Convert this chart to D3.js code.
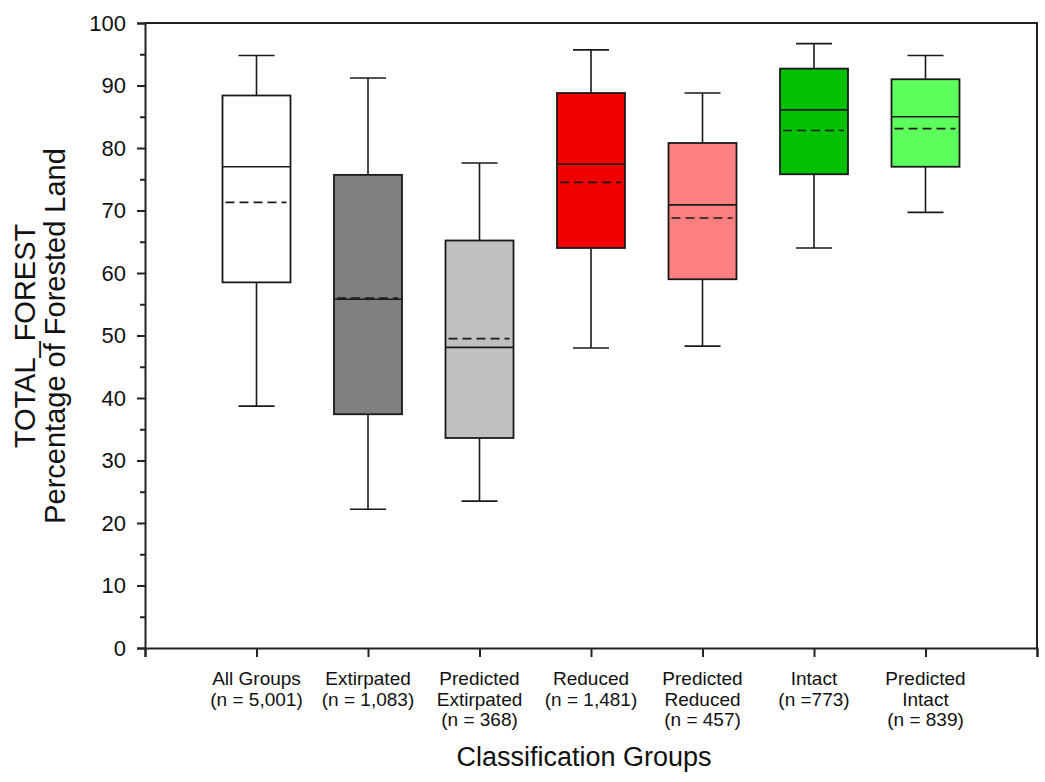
<!DOCTYPE html>
<html>
<head>
<meta charset="utf-8">
<script src="https://cdn.jsdelivr.net/npm/d3@7"></script>
<style>
  html, body { margin: 0; padding: 0; background: #fff; }
  svg { display: block; font-family: "Liberation Sans", Arial, sans-serif; }
</style>
</head>
<body>
<svg id="chart" width="1045" height="782"></svg>
<script>
// ---- Data ----
const categories = [
  ["All Groups", "(n = 5,001)"],
  ["Extirpated", "(n = 1,083)"],
  ["Predicted", "Extirpated", "(n = 368)"],
  ["Reduced", "(n = 1,481)"],
  ["Predicted", "Reduced", "(n = 457)"],
  ["Intact", "(n =773)"],
  ["Predicted", "Intact", "(n = 839)"]
];
const whiskerLow  = [38.7, 22.2, 23.5, 48.0, 48.3, 64.0, 69.7];
const q1          = [58.5, 37.4, 33.6, 64.0, 59.0, 75.8, 77.0];
const median      = [77.0, 55.8, 48.1, 77.4, 70.9, 86.1, 85.0];
const mean        = [71.3, 56.0, 49.5, 74.5, 68.8, 82.8, 83.1];
const q3          = [88.4, 75.7, 65.2, 88.8, 80.8, 92.7, 91.0];
const whiskerHigh = [94.8, 91.2, 77.6, 95.7, 88.8, 96.7, 94.8];
const fills = ["#ffffff", "#808080", "#c0c0c0", "#f20000", "#ff8080", "#00c000", "#5cff5c"];
const yTicks = [0, 10, 20, 30, 40, 50, 60, 70, 80, 90, 100];
const yMinorTicks = [5, 15, 25, 35, 45, 55, 65, 75, 85, 95];
const yTitle = ["TOTAL_FOREST", "Percentage of Forested Land"];
const xTitle = "Classification Groups";

// ---- Layout ----
const mLeft = 145, mRight = 1037, mTop = 23, mBottom = 648;
const svg = d3.select("#chart");
const x = d3.scaleLinear().domain([0, categories.length + 1]).range([mLeft, mRight]);
const y = d3.scaleLinear().domain([0, 100]).range([mBottom, mTop]);
const boxW = 68, capW = 36;
const ink = "#1a1a1a";

const data = categories.map((c, i) => ({
  label: c, pos: i + 1,
  lo: whiskerLow[i], q1: q1[i], med: median[i], mean: mean[i], q3: q3[i], hi: whiskerHigh[i],
  fill: fills[i]
}));

// frame (top & right)
svg.append("path")
  .attr("d", `M${mLeft},${mTop}H${mRight}V${mBottom}`)
  .attr("fill", "none").attr("stroke", "#222").attr("stroke-width", 2);

// Y axis major
const yAxis = svg.append("g").attr("transform", `translate(${mLeft},0)`)
  .call(d3.axisLeft(y).tickValues(yTicks).tickSize(8).tickPadding(11).tickFormat(d3.format("d")));
yAxis.select(".domain").attr("stroke", "#222").attr("stroke-width", 2);
yAxis.selectAll(".tick line").attr("stroke", "#222").attr("stroke-width", 2);
yAxis.selectAll(".tick text").attr("font-size", 22).attr("fill", "#111")
  .attr("font-family", "'Liberation Sans', Arial, sans-serif");

// Y axis minor
const yMinor = svg.append("g").attr("transform", `translate(${mLeft},0)`)
  .call(d3.axisLeft(y).tickValues(yMinorTicks).tickSize(5).tickFormat(""));
yMinor.select(".domain").remove();
yMinor.selectAll(".tick line").attr("stroke", "#222").attr("stroke-width", 2);

// X axis
const xAxis = svg.append("g").attr("transform", `translate(0,${mBottom})`)
  .call(d3.axisBottom(x).tickValues(d3.range(0, categories.length + 2)).tickSize(9).tickFormat(""));
xAxis.select(".domain").attr("stroke", "#222").attr("stroke-width", 2);
xAxis.selectAll(".tick line").attr("stroke", "#222").attr("stroke-width", 2);

// category labels
const lab = svg.append("g").selectAll("text").data(data).join("text")
  .attr("text-anchor", "middle").attr("font-size", 19).attr("fill", "#111")
  .attr("x", d => x(d.pos)).attr("y", 685);
lab.selectAll("tspan").data(d => d.label.map(t => ({ t, x: x(d.pos) }))).join("tspan")
  .attr("x", d => d.x).attr("dy", (d, i) => i === 0 ? 0 : 20.5).text(d => d.t);

// boxes
const g = svg.append("g").selectAll("g").data(data).join("g");
// whiskers
g.append("line").attr("x1", d => x(d.pos)).attr("x2", d => x(d.pos))
  .attr("y1", d => y(d.q3)).attr("y2", d => y(d.hi)).attr("stroke", ink).attr("stroke-width", 1.6);
g.append("line").attr("x1", d => x(d.pos)).attr("x2", d => x(d.pos))
  .attr("y1", d => y(d.q1)).attr("y2", d => y(d.lo)).attr("stroke", ink).attr("stroke-width", 1.6);
g.append("line").attr("x1", d => x(d.pos) - capW / 2).attr("x2", d => x(d.pos) + capW / 2)
  .attr("y1", d => y(d.hi)).attr("y2", d => y(d.hi)).attr("stroke", ink).attr("stroke-width", 1.6);
g.append("line").attr("x1", d => x(d.pos) - capW / 2).attr("x2", d => x(d.pos) + capW / 2)
  .attr("y1", d => y(d.lo)).attr("y2", d => y(d.lo)).attr("stroke", ink).attr("stroke-width", 1.6);
// box
g.append("rect").attr("x", d => x(d.pos) - boxW / 2).attr("width", boxW)
  .attr("y", d => y(d.q3)).attr("height", d => y(d.q1) - y(d.q3))
  .attr("fill", d => d.fill).attr("stroke", ink).attr("stroke-width", 1.8);
// median
g.append("line").attr("x1", d => x(d.pos) - boxW / 2).attr("x2", d => x(d.pos) + boxW / 2)
  .attr("y1", d => y(d.med)).attr("y2", d => y(d.med)).attr("stroke", ink).attr("stroke-width", 1.6);
// mean
g.append("line").attr("x1", d => x(d.pos) - boxW / 2 + 3).attr("x2", d => x(d.pos) + boxW / 2 - 4)
  .attr("y1", d => y(d.mean)).attr("y2", d => y(d.mean)).attr("stroke", ink).attr("stroke-width", 1.6)
  .attr("stroke-dasharray", "9,5");

// axis titles
svg.append("text").attr("text-anchor", "middle").attr("font-size", 27).attr("fill", "#111")
  .attr("x", (mLeft + mRight) / 2 - 7).attr("y", 766).text(xTitle);
yTitle.forEach((t, i) => {
  svg.append("text").attr("text-anchor", "middle").attr("font-size", 29).attr("fill", "#111")
    .attr("transform", `translate(${35 + i * 30},336) rotate(-90)`).text(t);
});
</script>
</body>
</html>
